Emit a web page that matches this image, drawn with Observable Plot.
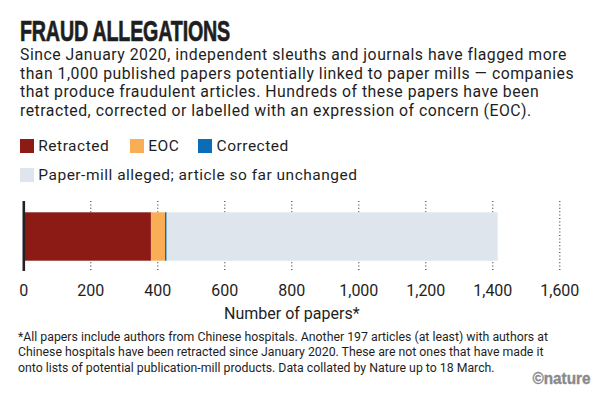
<!DOCTYPE html>
<html><head><meta charset="utf-8">
<script src="https://cdn.jsdelivr.net/npm/d3@7"></script>
<script src="https://cdn.jsdelivr.net/npm/@observablehq/plot@0.6"></script>
<style>
body{margin:0;width:600px;height:402px;position:relative;background:#fff;color:#1e1e1e;font-family:Roboto,sans-serif;overflow:hidden}
.abs{position:absolute}
#title{left:20px;top:16.3px;font-family:"Liberation Sans Narrow",sans-serif;font-weight:bold;font-size:30px;line-height:1;transform-origin:left top;white-space:nowrap;letter-spacing:-0.3px;-webkit-text-stroke:0.7px #1e1e1e}
#sub{left:20px;top:46px;font-size:15.8px;line-height:18.7px;letter-spacing:0.5px;white-space:nowrap}
.leg{display:flex;align-items:center;font-size:15.5px;line-height:16px;letter-spacing:0.5px;white-space:nowrap}
.sw{width:14px;height:14px;margin-right:4.3px;flex:none}
.item{display:flex;align-items:center;flex:none}
#chart{left:0;top:190px}
#foot{left:18px;top:329.5px;font-size:12.3px;line-height:15.5px;white-space:nowrap}
#credit{right:10px;top:369.5px;font-size:17px;color:#8a8a8a;font-family:"Liberation Sans Narrow",sans-serif;font-weight:bold;line-height:1;transform:scaleX(0.9);transform-origin:right center;-webkit-text-stroke:0.4px #8a8a8a}
</style></head>
<body>
<div id="title" class="abs">FRAUD ALLEGATIONS</div>
<div id="sub" class="abs">Since January 2020, independent sleuths and journals have flagged more<br>than 1,000 published papers potentially linked to paper mills — companies<br>that produce fraudulent articles. Hundreds of these papers have been<br>retracted, corrected or labelled with an expression of concern (EOC).</div>
<div id="leg1" class="abs leg" style="left:20px;top:138.3px"></div>
<div id="leg2" class="abs leg" style="left:20px;top:167.3px"></div>
<div id="chart" class="abs"></div>
<div id="foot" class="abs">*All papers include authors from Chinese hospitals. Another 197 articles (at least) with authors at<br>Chinese hospitals have been retracted since January 2020. These are not ones that have made it<br>onto lists of potential publication-mill products. Data collated by Nature up to 18 March.</div>
<div id="credit" class="abs">©nature</div>
<script>
const statuses = ["Retracted", "EOC", "Corrected", "Paper-mill alleged; article so far unchanged"];
const counts = [381, 42, 5, 988];
const colors = ["#8C1B15", "#F9AE55", "#0A6DB6", "#DEE5ED"];
const xTicks = [0, 200, 400, 600, 800, 1000, 1200, 1400, 1600];
const axisLabel = "Number of papers*";

// title width fit
const t = document.getElementById("title");
const tw = t.getBoundingClientRect().width;
t.style.transform = `scaleX(${210 / tw})`;

// legend
const itemWidths = [110, 68.3, null];
function addItem(container, i, w) {
  const it = document.createElement("div");
  it.className = "item";
  if (w) it.style.width = w + "px";
  const sw = document.createElement("div");
  sw.className = "sw";
  sw.style.background = colors[i];
  const lb = document.createElement("span");
  lb.textContent = statuses[i];
  it.appendChild(sw); it.appendChild(lb);
  container.appendChild(it);
}
const l1 = document.getElementById("leg1");
[0, 1, 2].forEach(i => addItem(l1, i, itemWidths[i]));
addItem(document.getElementById("leg2"), 3, null);

const rows = statuses.map((s, i) => ({status: s, count: counts[i], group: "papers"}));

const chart = Plot.plot({
  width: 600,
  height: 135,
  marginLeft: 23.3,
  marginRight: 40.7,
  marginTop: 11,
  marginBottom: 54,
  style: {fontFamily: "Roboto, sans-serif", color: "#1e1e1e", background: "transparent"},
  x: {domain: [0, 1600]},
  y: {domain: ["papers"], axis: null, padding: 0},
  color: {domain: statuses, range: colors},
  marks: [
    Plot.ruleX(xTicks.filter(d => d > 0), {stroke: "#333", strokeWidth: 1.1, strokeDasharray: "1,2.4"}),
    Plot.barX(rows, Plot.stackX({x: "count", y: "group", fill: "status", order: null, insetTop: 11.3, insetBottom: 10.3})),
    Plot.ruleX([0], {stroke: "#222", strokeWidth: 2.6}),
    Plot.axisX(xTicks, {tickSize: 0, tickPadding: 13, fontSize: 16, tickFormat: d3.format(","), label: null, fill: "#1e1e1e"}),
    Plot.text([axisLabel], {frameAnchor: "bottom", dy: 47, fontSize: 16, fill: "#1e1e1e"})
  ]
});
document.getElementById("chart").appendChild(chart);
</script>
</body></html>
